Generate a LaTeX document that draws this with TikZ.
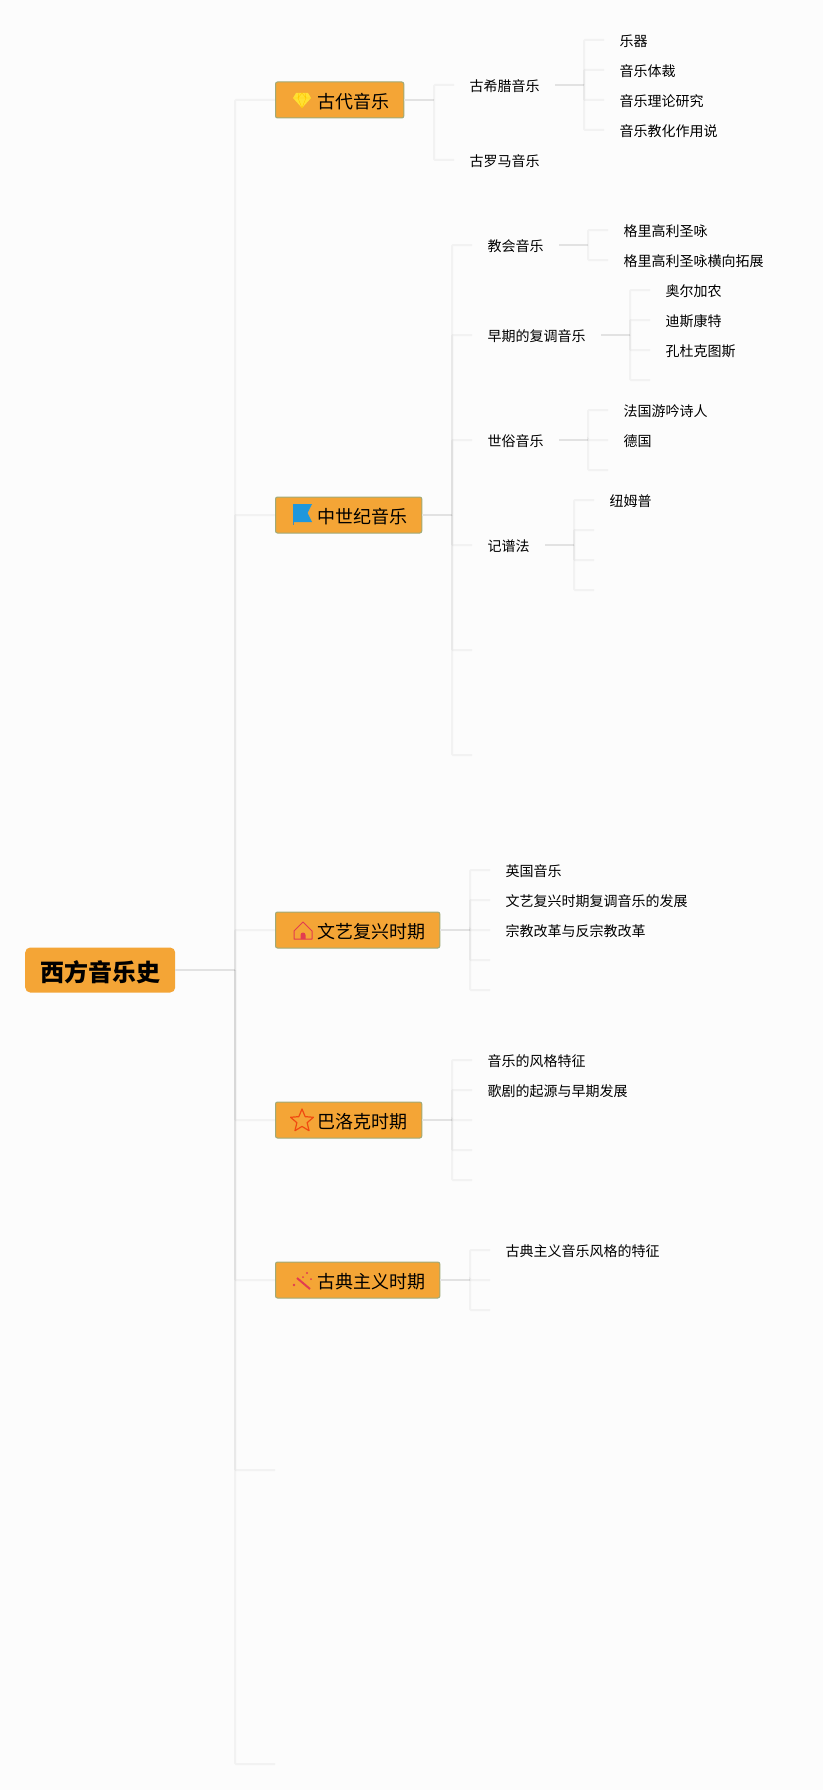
\documentclass[tikz,border=0pt]{standalone}
\usepackage{fontspec}
\setmainfont{Noto Sans CJK SC}
\usetikzlibrary{positioning, calc}
\definecolor{pagebg}{HTML}{FCFCFC}
\definecolor{boxfill}{HTML}{F4A536}
\definecolor{boxline}{HTML}{9FAA78}
\definecolor{linegray}{HTML}{808080}
\definecolor{stemgray}{HTML}{E2E2E2}
\definecolor{gemyellow}{HTML}{FFE033}
\definecolor{flagblue}{HTML}{1F97DC}
\definecolor{iconred}{HTML}{E23C50}
\definecolor{starred}{HTML}{F04A10}
\tikzset{
    rootnode/.style={rectangle, fill=boxfill, rounded corners=5pt, anchor=west, minimum height=45pt, inner xsep=15pt, inner ysep=0pt, text height=22pt, text depth=0pt, font=\fontsize{24}{24}\selectfont\bfseries},
    topicnode/.style={rectangle, draw=boxline, line width=1pt, fill=boxfill, rounded corners=2pt, anchor=west, minimum height=36pt, inner xsep=14pt, inner ysep=0pt, text height=17pt, text depth=0pt, font=\fontsize{18}{18}\selectfont},
    leafnode/.style={rectangle, anchor=west, inner xsep=15.3pt, inner ysep=2pt, text height=13.5pt, text depth=0pt, font=\fontsize{14}{14}\selectfont},
    stemline/.style={draw=stemgray, line width=2pt},
    branchline/.style={draw=linegray, draw opacity=0.08, line width=2pt, rounded corners=1pt},
    gem/.pic={
        \fill[gemyellow] (-6,-7) -- (6,-7) -- (9,-2) -- (0,8) -- (-9,-2) -- cycle;
        \draw[orange!45!yellow, line width=0.4pt] (-9,-2) -- (9,-2) (-3,-7) -- (-4,-2) -- (0,8) -- (4,-2) -- (3,-7) (-4,-2) -- (0,-7) -- (4,-2);
    },
    flag/.pic={
        \draw[flagblue!70!gray, line width=0.8pt] (-9.5,-11) -- (-9.5,10);
        \fill[flagblue] (-9.5,-11) -- (9.5,-11) -- (5,-2) -- (9.5,7) -- (-9.5,7) -- cycle;
    },
    house/.pic={
        \draw[iconred, line width=1pt, line join=round] (-9,9) -- (-9,1) -- (0,-8) -- (9,1) -- (9,9) -- cycle;
        \fill[iconred] (-2.5,9) -- (-2.5,5) arc[start angle=180, end angle=360, radius=2.5] -- (2.5,9) -- cycle;
    },
    star/.pic={
        \draw[starred, line width=1.2pt, line join=round] (-90:12) -- (-54:5.4) -- (-18:12) -- (18:5.4) -- (54:12) -- (90:5.4) -- (126:12) -- (162:5.4) -- (198:12) -- (234:5.4) -- cycle;
    },
    wand/.pic={
        \draw[iconred, line width=2pt] (-5,-3) -- (8,8);
        \fill[iconred] (5,-8) circle (1.2) (-8,4) circle (1.4) (9,-2) circle (1) (1,-4) circle (1);
    }
}
\begin{document}
\begin{tikzpicture}[x=1pt, y=-1pt]
\path[fill=pagebg, use as bounding box] (0,0) rectangle (823,1790);

\node[rootnode] (root) at (25,970) {西方音乐史};

\node[topicnode] (gudai) at (275,100) {\hspace*{28.3pt}古代音乐};
\node[topicnode] (zhongshiji) at (275,515) {\hspace*{28.3pt}中世纪音乐};
\node[topicnode] (wenyi) at (275,930) {\hspace*{28.3pt}文艺复兴时期};
\node[topicnode] (baluoke) at (275,1120) {\hspace*{28.3pt}巴洛克时期};
\node[topicnode] (gudian) at (275,1280) {\hspace*{28.3pt}古典主义时期};
\coordinate (blanka) at (275,1470);
\coordinate (blankb) at (275,1764);

\pic at ([xshift=27pt]gudai.west) {gem};
\pic at ([xshift=27.5pt]zhongshiji.west) {flag};
\pic at ([xshift=28pt]wenyi.west) {house};
\pic at ([xshift=27pt,yshift=-1pt]baluoke.west) {star};
\pic at ([xshift=27pt,yshift=-1pt]gudian.west) {wand};

\node[leafnode] (guxila) at (454,85) {古希腊音乐};
\node[leafnode] (guluoma) at (454,160) {古罗马音乐};
\node[leafnode] (yueqi) at (604,40) {乐器};
\node[leafnode] (ticai) at (604,70) {音乐体裁};
\node[leafnode] (lilun) at (604,100) {音乐理论研究};
\node[leafnode] (jiaohua) at (604,130) {音乐教化作用说};

\node[leafnode] (jiaohui) at (472,245) {教会音乐};
\node[leafnode] (fudiao) at (472,335) {早期的复调音乐};
\node[leafnode] (shisu) at (472,440) {世俗音乐};
\node[leafnode] (jipu) at (472,545) {记谱法};
\coordinate (zsblanka) at (472,650);
\coordinate (zsblankb) at (472,755);
\node[leafnode] (shengyong) at (608,230) {格里高利圣咏};
\node[leafnode] (tuozhan) at (608,260) {格里高利圣咏横向拓展};
\node[leafnode] (aoer) at (650,290) {奥尔加农};
\node[leafnode] (disi) at (650,320) {迪斯康特};
\node[leafnode] (kongdu) at (650,350) {孔杜克图斯};
\coordinate (fdblank) at (650,380);
\node[leafnode] (faguo) at (608,410) {法国游吟诗人};
\node[leafnode] (deguo) at (608,440) {德国};
\coordinate (ssblank) at (608,470);
\node[leafnode] (niumu) at (594,500) {纽姆普};
\coordinate (jpblanka) at (594,530);
\coordinate (jpblankb) at (594,560);
\coordinate (jpblankc) at (594,590);

\node[leafnode] (yingguo) at (490,870) {英国音乐};
\node[leafnode] (wyfudiao) at (490,900) {文艺复兴时期复调音乐的发展};
\node[leafnode] (zongjiao) at (490,930) {宗教改革与反宗教改革};
\coordinate (wyblanka) at (490,960);
\coordinate (wyblankb) at (490,990);

\node[leafnode] (fengge) at (472,1060) {音乐的风格特征};
\node[leafnode] (geju) at (472,1090) {歌剧的起源与早期发展};
\coordinate (blkblanka) at (472,1120);
\coordinate (blkblankb) at (472,1150);
\coordinate (blkblankc) at (472,1180);

\node[leafnode] (gdtezheng) at (490,1250) {古典主义音乐风格的特征};
\coordinate (gdblanka) at (490,1280);
\coordinate (gdblankb) at (490,1310);

\coordinate (trunk) at (235,970);
\coordinate (gdfork) at (434,100);
\coordinate (gxlfork) at (584,85);
\coordinate (zsfork) at (452,515);
\coordinate (jhfork) at (588,245);
\coordinate (fdfork) at (630,335);
\coordinate (ssfork) at (588,440);
\coordinate (jpfork) at (574,545);
\coordinate (wyfork) at (470,930);
\coordinate (blkfork) at (452,1120);
\coordinate (gdnfork) at (470,1280);

\draw[stemline] (root.east) -- (trunk);
\draw[stemline] (gudai.east) -- (gdfork);
\draw[stemline] (guxila.east) -- (gxlfork);
\draw[stemline] (zhongshiji.east) -- (zsfork);
\draw[stemline] (jiaohui.east) -- (jhfork);
\draw[stemline] (fudiao.east) -- (fdfork);
\draw[stemline] (shisu.east) -- (ssfork);
\draw[stemline] (jipu.east) -- (jpfork);
\draw[stemline] (wenyi.east) -- (wyfork);
\draw[stemline] (baluoke.east) -- (blkfork);
\draw[stemline] (gudian.east) -- (gdnfork);

\foreach \t in {gudai, zhongshiji, wenyi, baluoke, gudian}
    \draw[branchline] (trunk) |- (\t.west);
\foreach \t in {blanka, blankb}
    \draw[branchline] (trunk) |- (\t);
\foreach \t in {guxila, guluoma}
    \draw[branchline] (gdfork) |- (\t.west);
\foreach \t in {yueqi, ticai, lilun, jiaohua}
    \draw[branchline] (gxlfork) |- (\t.west);
\foreach \t in {jiaohui, fudiao, shisu, jipu}
    \draw[branchline] (zsfork) |- (\t.west);
\foreach \t in {zsblanka, zsblankb}
    \draw[branchline] (zsfork) |- (\t);
\foreach \t in {shengyong, tuozhan}
    \draw[branchline] (jhfork) |- (\t.west);
\foreach \t in {aoer, disi, kongdu}
    \draw[branchline] (fdfork) |- (\t.west);
\draw[branchline] (fdfork) |- (fdblank);
\foreach \t in {faguo, deguo}
    \draw[branchline] (ssfork) |- (\t.west);
\draw[branchline] (ssfork) |- (ssblank);
\draw[branchline] (jpfork) |- (niumu.west);
\foreach \t in {jpblanka, jpblankb, jpblankc}
    \draw[branchline] (jpfork) |- (\t);
\foreach \t in {yingguo, wyfudiao, zongjiao}
    \draw[branchline] (wyfork) |- (\t.west);
\foreach \t in {wyblanka, wyblankb}
    \draw[branchline] (wyfork) |- (\t);
\foreach \t in {fengge, geju}
    \draw[branchline] (blkfork) |- (\t.west);
\foreach \t in {blkblanka, blkblankb, blkblankc}
    \draw[branchline] (blkfork) |- (\t);
\draw[branchline] (gdnfork) |- (gdtezheng.west);
\foreach \t in {gdblanka, gdblankb}
    \draw[branchline] (gdnfork) |- (\t);
\end{tikzpicture}
\end{document}
